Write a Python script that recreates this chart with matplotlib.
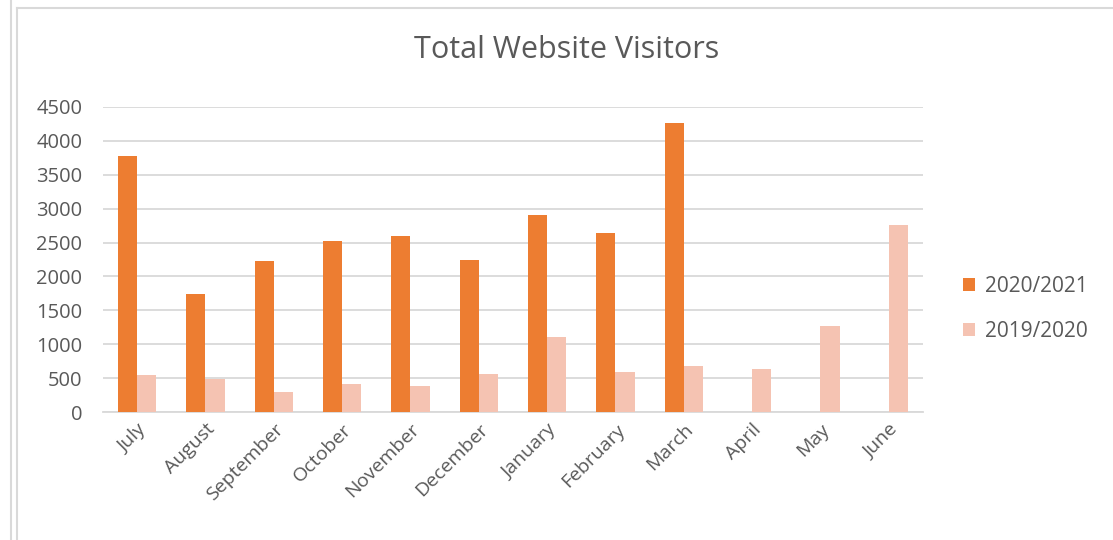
import matplotlib
matplotlib.use("Agg")
import matplotlib.pyplot as plt
import numpy as np
from matplotlib.lines import Line2D

months = ["July", "August", "September", "October", "November", "December",
          "January", "February", "March", "April", "May", "June"]
series_2021 = [3770, 1740, 2225, 2520, 2590, 2245, 2900, 2640, 4270, 0, 0, 0]
series_2020 = [545, 480, 300, 415, 385, 560, 1110, 585, 680, 640, 1265, 2760]
labels = ["2020/2021", "2019/2020"]
colors = ["#ED7D31", "#F5C3B2"]
yticks = [0, 500, 1000, 1500, 2000, 2500, 3000, 3500, 4000, 4500]

plt.rcParams['font.family'] = ['Open Sans', 'DejaVu Sans']
text_color = "#595959"

fig = plt.figure(figsize=(11.13, 5.4), dpi=100)
W, H = 1113, 540

# chart frame lines
fig.add_artist(Line2D([11 / W, 11 / W], [0, 1], color="#D9D9D9", lw=1.5, transform=fig.transFigure))
fig.add_artist(Line2D([17 / W, 17 / W], [0, 1 - 8 / H], color="#D9D9D9", lw=1.5, transform=fig.transFigure))
fig.add_artist(Line2D([17 / W, 1], [1 - 8 / H, 1 - 8 / H], color="#D9D9D9", lw=1.5, transform=fig.transFigure))

ax = fig.add_axes([103 / W, (540 - 412) / H, (923 - 103) / W, (412 - 107) / H])
x = np.arange(len(months))
bw = 0.28
ax.bar(x - bw / 2, series_2021, width=bw, color=colors[0], label=labels[0], zorder=3)
ax.bar(x + bw / 2, series_2020, width=bw, color=colors[1], label=labels[1], zorder=3)

ax.set_xlim(-0.5, len(months) - 0.5)
ax.set_ylim(0, 4500)
ax.set_yticks(yticks)
ax.set_yticklabels([str(v) for v in yticks], fontsize=14.5, color=text_color)
ax.yaxis.grid(True, color="#D9D9D9", lw=1.3, zorder=0)
ax.tick_params(axis='y', length=0, pad=15)
ax.tick_params(axis='x', length=0, pad=6)
ax.set_xticks(x)
ax.set_xticklabels(months, rotation=45, ha='right', rotation_mode='anchor',
                   fontsize=14, color=text_color)
for s in ["top", "right", "left"]:
    ax.spines[s].set_visible(False)
ax.spines["bottom"].set_color("#D9D9D9")
ax.spines["bottom"].set_linewidth(1.3)

fig.text(567 / W, 1 - 50 / H, "Total Website Visitors", ha='center', va='center',
         fontsize=22, color=text_color)

leg = ax.legend(loc='center left', bbox_to_anchor=(944 / W, 1 - 309 / H),
                bbox_transform=fig.transFigure, frameon=False, fontsize=15,
                handlelength=0.6, handleheight=0.6, handletextpad=0.45, labelspacing=1.15)
for t in leg.get_texts():
    t.set_color(text_color)

fig.savefig("out.png", dpi=100)
